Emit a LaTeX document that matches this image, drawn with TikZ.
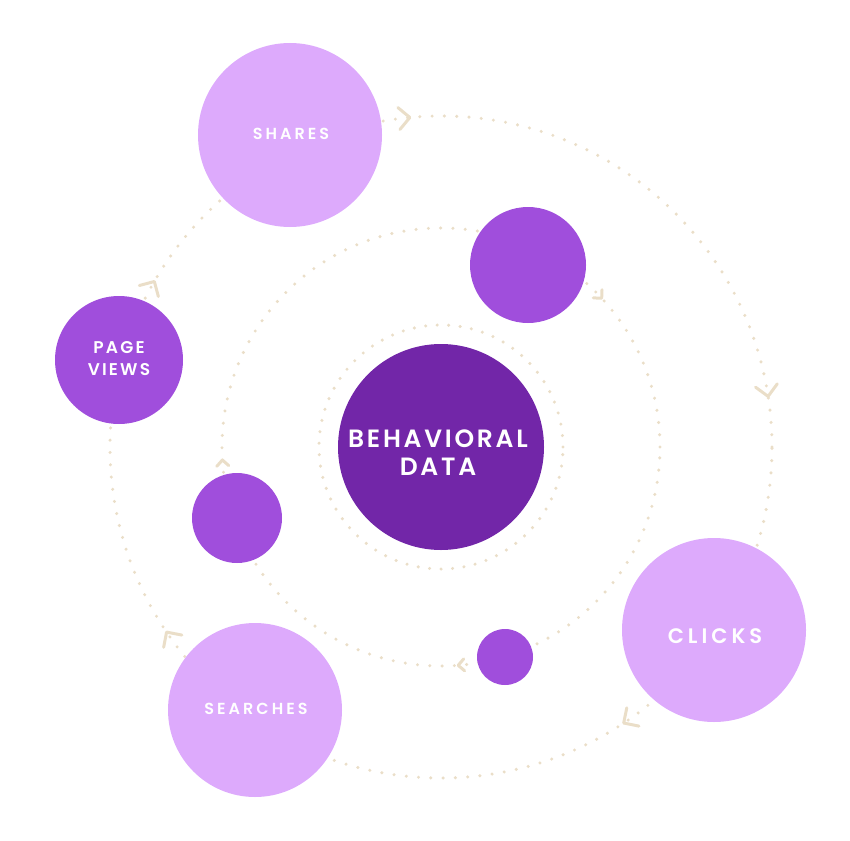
\documentclass[tikz,border=0pt]{standalone}
\usepackage{fontspec}
\setmainfont{Poppins}[UprightFont={* SemiBold}]
\newfontfamily\lblA{Poppins}[UprightFont={* SemiBold},LetterSpace=19]
\newfontfamily\lblB{Poppins}[UprightFont={* SemiBold},LetterSpace=13]
\newfontfamily\lblC{Poppins}[UprightFont={* SemiBold},LetterSpace=11]
\usetikzlibrary{calc}
\definecolor{lilac}{RGB}{221,170,252}
\definecolor{midpurple}{RGB}{160,78,220}
\definecolor{darkpurple}{RGB}{114,38,168}
\definecolor{beige}{RGB}{234,222,200}
\tikzset{
  dotline/.style={draw=beige,line width=3.4pt,line cap=round,dash pattern=on 0pt off 12.3pt},
  chevline/.style={draw=beige,line width=3pt,line cap=round,line join=round},
  bubble/.style={circle,inner sep=0pt,text=white,align=center},
  caption/.style={text=white,align=center,inner sep=0pt},
}
% angle, radius, arm size
\newcommand\mychev[3]{%
  \begin{scope}[shift={($(C)+(#1:#2pt)$)},rotate=#1-90]
    \draw[chevline] (-#3pt,#3pt) -- (0pt,0pt) -- (-#3pt,-#3pt);
  \end{scope}}
\begin{document}
\begin{tikzpicture}[x=1pt,y=-1pt]
\useasboundingbox (0,0) rectangle (850,840);
\coordinate (C) at (441,447);
% orbits
\draw[dotline] (C) circle[radius=331pt];
\draw[dotline] (C) circle[radius=219pt];
\draw[dotline,dash pattern=on 0pt off 11.5pt] (C) circle[radius=122pt];
% chevrons outer
\mychev{95.4}{331}{11}
\mychev{8.8}{331}{11}
\mychev{-56.5}{331}{11}
\mychev{214}{331}{11}
\mychev{150}{331}{11}
% chevrons middle
\mychev{42.8}{219}{6}
\mychev{-85.5}{219}{6}
\mychev{183.4}{219}{6}
% bubbles
\node[bubble,fill=lilac,minimum size=184pt] (shares) at (290,135) {};
\node[bubble,fill=midpurple,minimum size=128pt] (pageviews) at (119,360) {};
\node[bubble,fill=lilac,minimum size=174pt] (searches) at (255,710) {};
\node[bubble,fill=lilac,minimum size=184pt] (clicks) at (714,630) {};
\node[bubble,fill=midpurple,minimum size=116pt] (b1) at (528,265) {};
\node[bubble,fill=midpurple,minimum size=90pt] (b2) at (237,518) {};
\node[bubble,fill=midpurple,minimum size=56pt] (b3) at (505,657) {};
\node[bubble,fill=darkpurple,minimum size=206pt] (core) at (C) {};
% captions
\node[caption,font={\fontsize{16}{20}\lblA}] (sharestext) at (291,134) {SHARES};
\node[caption,font={\fontsize{17}{22}\lblB}] (pvtext) at (119,359) {PAGE\\VIEWS};
\node[caption,font={\fontsize{16}{20}\lblA}] (searchtext) at (256,709) {SEARCHES};
\node[caption,font={\fontsize{21}{24}\lblA}] (clickstext) at (715,636) {CLICKS};
\node[caption,font={\fontsize{25}{28}\lblC}] (coretext) at (438,453) {BEHAVIORAL\\DATA};
\end{tikzpicture}
\end{document}
